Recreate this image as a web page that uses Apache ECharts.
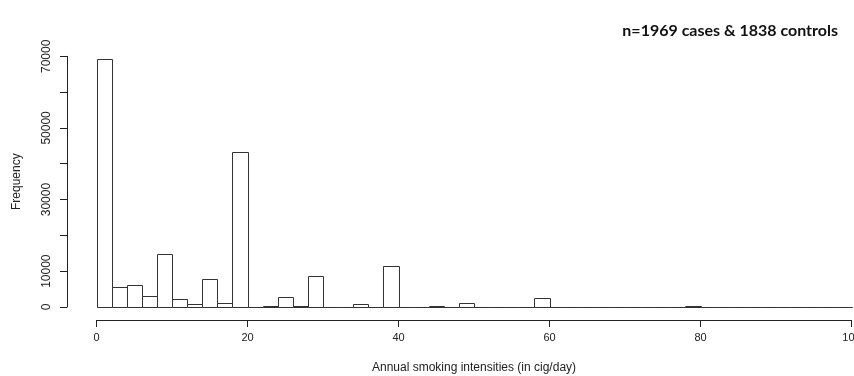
<!DOCTYPE html>
<html>
<head>
<meta charset="utf-8">
<script src="https://cdn.jsdelivr.net/npm/echarts@6/dist/echarts.min.js"></script>
<style>
  html, body { margin: 0; padding: 0; background: #fff; }
  #chart { width: 854px; height: 376px; }
</style>
</head>
<body>
<div id="chart"></div>
<script>
// Histogram of annual smoking intensity, bins of 2 cig/day from 0 to 100
const binStarts = [0, 2, 4, 6, 8, 10, 12, 14, 16, 18, 20, 22, 24, 26, 28, 30, 32, 34, 36, 38,
  40, 42, 44, 46, 48, 50, 52, 54, 56, 58, 60, 62, 64, 66, 68, 70, 72, 74, 76, 78,
  80, 82, 84, 86, 88, 90, 92, 94, 96, 98];
const binWidth = 2;
const counts = [69300, 5600, 6200, 3100, 14800, 2300, 900, 7800, 1200, 43400,
  0, 300, 2700, 400, 8650, 0, 0, 750, 0, 11450,
  0, 0, 300, 0, 1050, 0, 0, 0, 0, 2450,
  0, 0, 0, 0, 0, 0, 0, 0, 0, 300,
  0, 0, 0, 0, 0, 0, 0, 0, 0, 0];
const xTicks = [0, 20, 40, 60, 80, 100];
const yTicks = [0, 10000, 30000, 50000, 70000];
const titleText = 'n=1969 cases & 1838 controls';

const bars = binStarts.map((s, i) => [s, s + binWidth, counts[i]]);

const chart = echarts.init(document.getElementById('chart'), null, { renderer: 'canvas' });
const axisFont = { fontFamily: 'Liberation Sans, Arial, sans-serif', fontSize: 11, color: '#222' };

chart.setOption({
  animation: false,
  backgroundColor: '#fff',
  title: {
    text: titleText,
    right: 11,
    top: 18,
    textStyle: { fontFamily: 'Lato, Open Sans, sans-serif', fontWeight: 'bold', fontSize: 16, color: '#111' }
  },
  grid: { left: 96.5, right: 2.5, top: 56.3, bottom: 69, outerBoundsMode: 'none', containLabel: false },
  xAxis: {
    type: 'value', min: 0, max: 100, interval: 20,
    offset: 13,
    name: 'Annual smoking intensities (in cig/day)',
    nameLocation: 'middle', nameGap: 42,
    nameTextStyle: Object.assign({}, axisFont, { fontSize: 12 }),
    axisLine: { show: true, onZero: false, lineStyle: { color: '#222', width: 1 } },
    axisTick: { show: true, length: 7, lineStyle: { color: '#222' } },
    axisLabel: Object.assign({}, axisFont, { margin: 12, showMaxLabel: true, hideOverlap: false }),
    splitLine: { show: false }
  },
  yAxis: {
    type: 'value', min: 0, max: 70000, interval: 10000,
    offset: 29.5,
    name: 'Frequency',
    nameLocation: 'middle', nameRotate: 90, nameGap: 44,
    nameTextStyle: Object.assign({}, axisFont, { fontSize: 12 }),
    axisLine: { show: true, onZero: false, lineStyle: { color: '#222', width: 1 } },
    axisTick: { show: true, length: 7, lineStyle: { color: '#222' } },
    axisLabel: Object.assign({}, axisFont, {
      rotate: 90, margin: 14, fontSize: 12,
      formatter: v => (yTicks.indexOf(v) >= 0 ? String(v) : '')
    }),
    splitLine: { show: false }
  },
  series: [{
    type: 'custom',
    data: bars,
    encode: { x: [0, 1], y: 2 },
    clip: false,
    renderItem: (params, api) => {
      const p0 = api.coord([api.value(0), api.value(2)]);
      const p1 = api.coord([api.value(1), 0]);
      const x0 = Math.round(p0[0]) + 0.5, x1 = Math.round(p1[0]) + 0.5;
      const y0 = Math.round(p0[1]) + 0.5, y1 = Math.round(p1[1]) + 0.5;
      return {
        type: 'polygon',
        shape: { points: [[x0, y1], [x0, y0], [x1, y0], [x1, y1]] },
        style: { fill: '#fff', stroke: '#333', lineWidth: 1 }
      };
    }
  }]
});
</script>
</body>
</html>
